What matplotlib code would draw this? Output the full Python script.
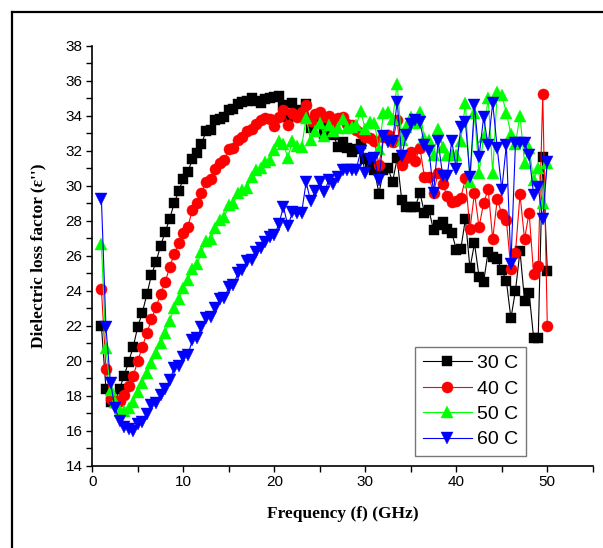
import matplotlib
matplotlib.use("Agg")
import matplotlib.pyplot as plt
from matplotlib.lines import Line2D
from matplotlib.ticker import MultipleLocator

freq = [1.0, 1.5, 2.0, 2.5, 3.0, 3.5, 4.0, 4.5, 5.0, 5.5, 6.0, 6.5, 7.0, 7.5, 8.0, 8.5, 9.0, 9.5,
        10.0, 10.5, 11.0, 11.5, 12.0, 12.5, 13.0, 13.5, 14.0, 14.5, 15.0, 15.5, 16.0, 16.5, 17.0, 17.5,
        18.0, 18.5, 19.0, 19.5, 20.0, 20.5, 21.0, 21.5, 22.0, 22.5, 23.0, 23.5, 24.0, 24.5, 25.0, 25.5,
        26.0, 26.5, 27.0, 27.5, 28.0, 28.5, 29.0, 29.5, 30.0, 30.5, 31.0, 31.5, 32.0, 32.5, 33.0, 33.5,
        34.0, 34.5, 35.0, 35.5, 36.0, 36.5, 37.0, 37.5, 38.0, 38.5, 39.0, 39.5, 40.0, 40.5, 41.0, 41.5,
        42.0, 42.5, 43.0, 43.5, 44.0, 44.5, 45.0, 45.5, 46.0, 46.5, 47.0, 47.5, 48.0, 48.5, 49.0, 49.5, 50.0]

eps_30C = [22.0, 18.4, 17.65, 17.6, 18.4, 19.15, 19.95, 20.8, 21.95, 22.75, 23.8, 24.9, 25.65, 26.55,
           27.35, 28.1, 29.0, 29.7, 30.4, 30.8, 31.5, 31.85, 32.4, 33.1, 33.2, 33.75, 33.8, 33.9, 34.33,
           34.37, 34.67, 34.8, 34.85, 35.0, 34.86, 34.75, 34.94, 35.03, 35.05, 35.13, 34.6, 33.9, 34.75,
           34.3, 33.9, 34.67, 33.28, 33.6, 33.56, 32.95, 33.34, 32.9, 32.2, 32.5, 32.15, 31.95, 32.1,
           32.38, 31.5, 31.1, 30.9, 29.55, 30.9, 31.0, 30.23, 31.56, 29.18, 28.78, 28.8, 28.8, 29.6,
           28.45, 28.6, 27.45, 27.77, 27.9, 27.5, 27.32, 26.35, 26.4, 28.1, 25.28, 26.7, 24.8, 24.5,
           26.23, 25.94, 25.79, 25.18, 24.57, 22.42, 24.0, 26.27, 23.43, 23.89, 21.28, 21.28, 31.66, 25.14]

eps_40C = [24.1, 19.55, 17.8, 17.75, 17.7, 18.04, 18.57, 19.14, 19.98, 20.8, 21.57, 22.38, 23.05, 23.81,
           24.48, 25.34, 26.08, 26.72, 27.3, 27.66, 28.61, 28.99, 29.6, 30.23, 30.37, 30.94, 31.28, 31.47,
           32.08, 32.14, 32.6, 32.77, 33.1, 33.25, 33.5, 33.75, 33.85, 33.8, 33.41, 33.94, 34.33, 33.47,
           34.17, 33.9, 34.2, 34.6, 33.7, 34.1, 34.2, 33.95, 33.97, 33.6, 33.85, 33.94, 33.5, 33.45,
           33.2, 33.0, 32.8, 32.7, 32.57, 31.18, 32.8, 32.9, 32.5, 33.75, 31.18, 31.56, 31.95, 31.42,
           32.17, 30.48, 30.48, 29.58, 30.75, 30.09, 29.43, 29.05, 29.15, 29.3, 30.42, 27.5, 29.6, 27.63,
           29.0, 29.8, 26.95, 29.23, 28.38, 28.02, 25.22, 26.17, 29.5, 26.95, 28.46, 24.94, 25.43, 35.23, 22.0]

eps_50C = [26.65, 20.7, 18.33, 17.66, 17.13, 17.13, 17.28, 17.66, 18.19, 18.71, 19.31, 19.89, 20.42, 21.03,
           21.6, 22.29, 22.99, 23.53, 24.14, 24.61, 25.22, 25.5, 26.2, 26.85, 26.94, 27.6, 28.04, 28.19,
           28.9, 28.99, 29.57, 29.75, 29.85, 30.51, 30.9, 30.99, 31.37, 31.47, 32.04, 32.57, 32.4, 31.6,
           32.57, 32.28, 32.2, 33.88, 32.6, 33.1, 33.56, 32.84, 33.47, 33.1, 33.3, 33.79, 33.28, 33.37,
           33.47, 34.25, 33.22, 33.66, 33.6, 32.1, 34.14, 34.23, 33.79, 35.81, 32.61, 33.37, 33.9, 33.56,
           34.23, 32.7, 32.6, 31.76, 33.22, 32.23, 31.73, 31.76, 31.76, 32.58, 34.72, 30.23, 34.15, 30.72,
           32.8, 35.02, 30.72, 35.37, 35.18, 34.17, 32.95, 32.38, 34.0, 31.31, 32.15, 30.31, 31.03, 29.03, 31.3]

eps_60C = [29.24, 21.9, 18.75, 17.28, 16.58, 16.23, 16.08, 15.98, 16.37, 16.52, 16.94, 17.47, 17.57, 18.04,
           18.37, 18.9, 19.56, 19.7, 20.23, 20.33, 21.18, 21.28, 21.94, 22.45, 22.48, 23.0, 23.5, 23.56,
           24.2, 24.33, 25.0, 25.2, 25.72, 25.75, 26.2, 26.45, 26.8, 27.05, 27.18, 27.8, 28.8, 27.7,
           28.5, 28.42, 28.46, 30.2, 29.1, 29.7, 30.2, 29.65, 30.33, 30.12, 30.5, 30.9, 30.92, 30.9,
           30.92, 32.0, 30.7, 31.55, 31.6, 30.3, 32.85, 32.5, 32.55, 34.8, 31.7, 32.9, 33.5, 33.75,
           33.66, 32.33, 32.0, 29.6, 32.55, 30.58, 30.55, 32.56, 30.97, 33.37, 33.66, 30.51, 34.61, 31.66,
           33.9, 32.3, 34.72, 32.14, 29.78, 32.33, 25.51, 32.42, 32.42, 32.42, 31.75, 29.47, 29.92, 28.08, 31.35]

labels = ["30 C", "40 C", "50 C", "60 C"]
series = [eps_30C, eps_40C, eps_50C, eps_60C]
colors = ["#000000", "#FF0000", "#00FF00", "#0000FF"]
markers = ["s", "o", "^", "v"]
msizes = [7, 8, 8.5, 8.5]

fig = plt.figure(figsize=(6.03, 5.48), dpi=100)
ax = fig.add_axes([92.3 / 603, 82.3 / 548, 500.5 / 603, 420 / 548])

for y, c, m, ms, lab in zip(series, colors, markers, msizes, labels):
    ax.plot(freq, y, color=c, lw=0.8, marker=m, ms=ms, mfc=c, mec=c, mew=0.3, label=lab)

ax.set_xlim(0, 55)
ax.set_ylim(14, 38)
ax.xaxis.set_major_locator(MultipleLocator(10))
ax.xaxis.set_minor_locator(MultipleLocator(5))
ax.yaxis.set_major_locator(MultipleLocator(2))
ax.yaxis.set_minor_locator(MultipleLocator(1))
ax.spines["top"].set_visible(False)
ax.spines["right"].set_visible(False)
for s in ("left", "bottom"):
    ax.spines[s].set_linewidth(1.2)
ax.tick_params(which="both", direction="out", length=4, width=1.0, labelsize=11)
ax.tick_params(which="major", pad=3)
for lbl in ax.get_xticklabels() + ax.get_yticklabels():
    lbl.set_fontfamily("Liberation Sans")

ax.set_xlabel("Frequency (f) (GHz)", fontfamily="Liberation Serif", fontweight="bold",
              fontsize=12.5, labelpad=12)
ax.set_ylabel("Dielectric loss factor (\u03b5'')", fontfamily="Liberation Serif",
              fontweight="bold", fontsize=12.5, labelpad=14)

leg = ax.legend(loc="upper left", bbox_to_anchor=(0.645, 0.283), borderaxespad=0,
                frameon=True, fancybox=False, numpoints=1, handlelength=2.5,
                handletextpad=0.3, labelspacing=0.4, borderpad=0.4,
                prop={"family": "Liberation Sans", "size": 14})
leg.get_frame().set_edgecolor("#555555")
leg.get_frame().set_linewidth(1.0)

fig.add_artist(Line2D([12 / 603, 12 / 603], [0, 1 - 12 / 548], transform=fig.transFigure,
                      color="black", lw=1.6))
fig.add_artist(Line2D([12 / 603, 1], [1 - 12 / 548, 1 - 12 / 548], transform=fig.transFigure,
                      color="black", lw=1.6))

fig.savefig("out.png", dpi=100)
